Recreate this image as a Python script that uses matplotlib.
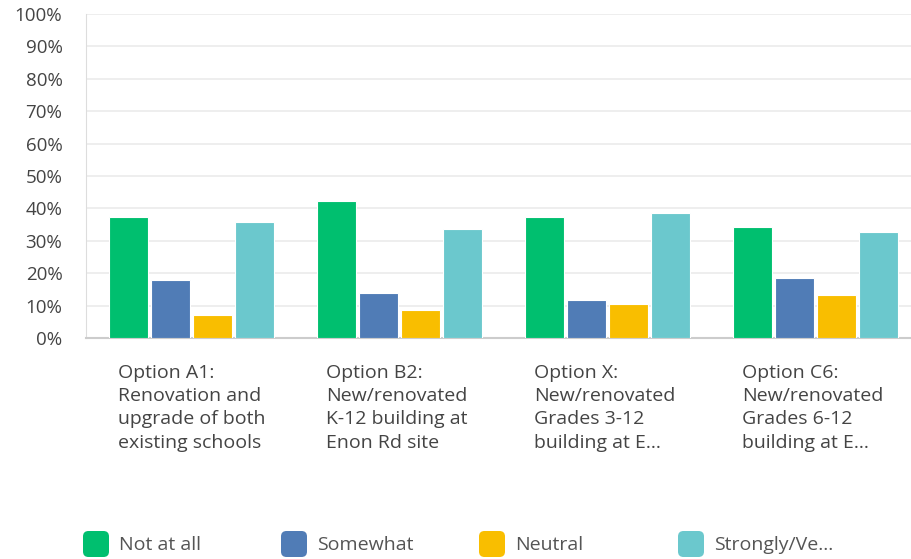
import matplotlib
matplotlib.use("Agg")
import matplotlib.pyplot as plt
from matplotlib.patches import FancyBboxPatch
import numpy as np

categories = [
    "Option A1:\nRenovation and\nupgrade of both\nexisting schools",
    "Option B2:\nNew/renovated\nK-12 building at\nEnon Rd site",
    "Option X:\nNew/renovated\nGrades 3-12\nbuilding at E...",
    "Option C6:\nNew/renovated\nGrades 6-12\nbuilding at E...",
]
series_names = ["Not at all", "Somewhat", "Neutral", "Strongly/Ve..."]
not_at_all = [37.3, 42.2, 37.4, 34.3]
somewhat = [17.9, 13.8, 11.7, 18.4]
neutral = [7.1, 8.5, 10.6, 13.2]
strongly = [35.8, 33.7, 38.5, 32.6]
colors = ["#00BF6F", "#507CB6", "#F9BE00", "#6BC8CD"]
yticks = [0, 10, 20, 30, 40, 50, 60, 70, 80, 90, 100]
ytick_labels = [f"{v}%" for v in yticks]

plt.rcParams['font.family'] = ['Open Sans', 'DejaVu Sans']
W, H = 911, 559
fig = plt.figure(figsize=(W / 100, H / 100), dpi=100)
ax = fig.add_axes([86 / W, 1 - 338 / H, 1 - 86 / W, (338 - 14) / H])

x = np.arange(len(categories))
step = 0.202
width = 0.188
all_series = [not_at_all, somewhat, neutral, strongly]
offsets = [-1.5, -0.5, 0.5, 1.5]
for vals, off, c in zip(all_series, offsets, colors):
    ax.bar(x + off * step, vals, width=width, color=c, edgecolor="white",
           linewidth=0.8, zorder=3)

ax.set_xlim(-0.507, 3.459)
ax.set_ylim(0, 100)
ax.set_yticks(yticks)
ax.set_yticklabels(ytick_labels, fontsize=13.5, color="#444444")
ax.yaxis.grid(True, color="#ebebeb", linewidth=1.2, zorder=0)
ax.set_xticks([])
ax.tick_params(axis="y", length=0, pad=17)
for s in ["top", "right"]:
    ax.spines[s].set_visible(False)
ax.spines["left"].set_color("#dddddd")
ax.spines["bottom"].set_color("#cccccc")
ax.spines["bottom"].set_linewidth(1.5)

trans = matplotlib.transforms.blended_transform_factory(ax.transData, fig.transFigure)
for xi, cat in zip(x, categories):
    ax.text(xi - 0.355, 1 - 364 / H, cat, transform=trans, ha="left", va="top",
            fontsize=14, color="#444444", linespacing=1.37)

# legend
legend_x = [83, 281, 479, 678]
sq = 26
for lx, name, c in zip(legend_x, series_names, colors):
    p = FancyBboxPatch((lx / W, (H - 557) / H), sq / W, sq / H,
                       boxstyle="round,pad=0,rounding_size=0.006",
                       transform=fig.transFigure, facecolor=c, edgecolor="none",
                       mutation_aspect=W / H)
    fig.add_artist(p)
    fig.text((lx + 36) / W, (H - 545) / H, name, ha="left", va="center",
             fontsize=14, color="#555555")

fig.savefig("out.png", dpi=100)
